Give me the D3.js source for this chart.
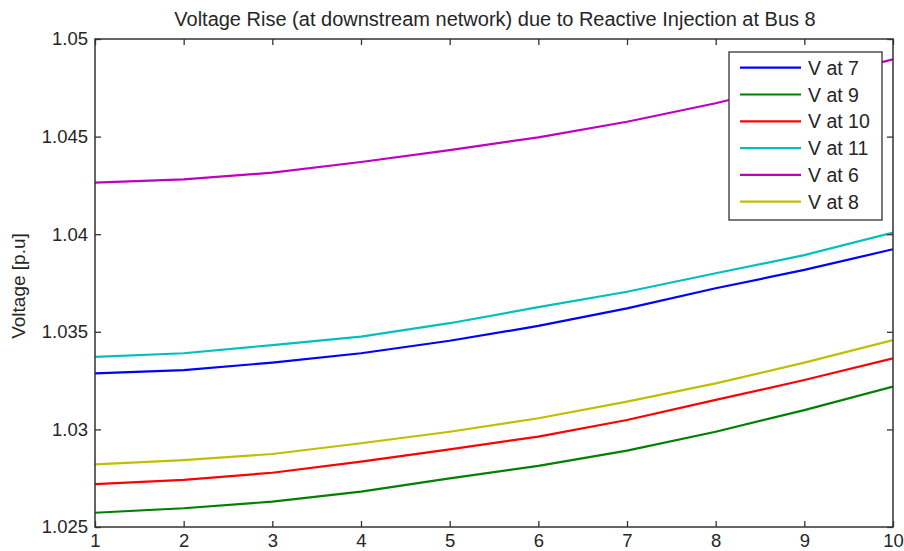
<!DOCTYPE html>
<html>
<head>
<meta charset="utf-8">
<script src="https://cdn.jsdelivr.net/npm/d3@7"></script>
<style>
  html, body { margin: 0; padding: 0; background: #fff; }
  svg { display: block; }
  text { font-family: "Liberation Sans", Arial, sans-serif; fill: #262626; }
</style>
</head>
<body>
<div id="chart"></div>
<script>
// ---- data ----
const xValues = [1, 2, 3, 4, 5, 6, 7, 8, 9, 10];
const v7  = [1.03287, 1.03304, 1.03342, 1.03390, 1.03454, 1.03530, 1.03620, 1.03723, 1.03817, 1.03923];
const v9  = [1.02573, 1.02596, 1.02630, 1.02681, 1.02749, 1.02813, 1.02891, 1.02988, 1.03099, 1.03219];
const v10 = [1.02720, 1.02741, 1.02778, 1.02835, 1.02898, 1.02963, 1.03048, 1.03151, 1.03253, 1.03364];
const v11 = [1.03372, 1.03390, 1.03432, 1.03475, 1.03544, 1.03626, 1.03705, 1.03800, 1.03893, 1.04008];
const v6  = [1.04264, 1.04281, 1.04315, 1.04370, 1.04431, 1.04496, 1.04576, 1.04671, 1.04780, 1.04896];
const v8  = [1.02821, 1.02843, 1.02874, 1.02929, 1.02988, 1.03057, 1.03142, 1.03236, 1.03342, 1.03458];
const seriesNames = ["V at 7", "V at 9", "V at 10", "V at 11", "V at 6", "V at 8"];
const seriesValues = [v7, v9, v10, v11, v6, v8];
const seriesColors = ["#0000ff", "#008000", "#ff0000", "#00bfbf", "#bf00bf", "#bfbf00"];
const xTicks = [1, 2, 3, 4, 5, 6, 7, 8, 9, 10];
const yTicks = [1.025, 1.03, 1.035, 1.04, 1.045, 1.05];
const yTickLabels = ["1.025", "1.03", "1.035", "1.04", "1.045", "1.05"];
const titleText = "Voltage Rise (at downstream network) due to Reactive Injection at Bus 8";
const yLabelText = "Voltage [p.u]";

// ---- layout ----
const W = 904, H = 551;
const L = 95, R = 893, T = 39, B = 527;
const axisColor = "#333";
const tickFont = 18.5;

const svg = d3.select("#chart").append("svg").attr("width", W).attr("height", H);

const x = d3.scaleLinear().domain([1, 10]).range([L, R]);
const y = d3.scaleLinear().domain([1.025, 1.05]).range([B, T]);

// series lines (clipped to plot area)
svg.append("clipPath").attr("id", "clip")
  .append("rect").attr("x", L).attr("y", T).attr("width", R - L).attr("height", B - T);

const line = d3.line().x((d, i) => x(xValues[i])).y(d => y(d));
const lines = svg.append("g").attr("clip-path", "url(#clip)");
seriesValues.forEach((vals, k) => {
  lines.append("path")
    .attr("d", line(vals))
    .attr("fill", "none")
    .attr("stroke", seriesColors[k])
    .attr("stroke-width", 2.2);
});

// axes: bottom/left with labels, top/right mirrored ticks, all inward
const tickLen = 6;
const fmtY = d => yTickLabels[yTicks.indexOf(d)];
const gB = svg.append("g").attr("transform", `translate(0,${B})`)
  .call(d3.axisBottom(x).tickValues(xTicks).tickSizeInner(-tickLen).tickSizeOuter(0).tickPadding(7).tickFormat(d3.format("d")));
const gT = svg.append("g").attr("transform", `translate(0,${T})`)
  .call(d3.axisTop(x).tickValues(xTicks).tickSizeInner(-tickLen).tickSizeOuter(0).tickFormat(""));
const gL = svg.append("g").attr("transform", `translate(${L},0)`)
  .call(d3.axisLeft(y).tickValues(yTicks).tickSizeInner(-tickLen).tickSizeOuter(0).tickPadding(7).tickFormat(fmtY));
const gR = svg.append("g").attr("transform", `translate(${R},0)`)
  .call(d3.axisRight(y).tickValues(yTicks).tickSizeInner(-tickLen).tickSizeOuter(0).tickFormat(""));

[gB, gT, gL, gR].forEach(g => {
  g.select(".domain").remove();
  g.selectAll(".tick line").attr("stroke", axisColor).attr("stroke-width", 1.3);
  g.selectAll("text").attr("font-size", tickFont).attr("fill", "#262626")
    .attr("font-family", "Liberation Sans, Arial, sans-serif");
});

// frame
svg.append("rect").attr("x", L).attr("y", T).attr("width", R - L).attr("height", B - T)
  .attr("fill", "none").attr("stroke", axisColor).attr("stroke-width", 1.5);

// title
svg.append("text").attr("x", 495).attr("y", 26).attr("text-anchor", "middle")
  .attr("font-size", 20).text(titleText);

// y label
svg.append("text").attr("transform", `translate(25,286) rotate(-90)`)
  .attr("text-anchor", "middle").attr("font-size", 19).text(yLabelText);

// legend
const lgX = 729, lgY = 52, lgW = 153, lgH = 168;
const lg = svg.append("g");
lg.append("rect").attr("x", lgX).attr("y", lgY).attr("width", lgW).attr("height", lgH)
  .attr("fill", "#fff").attr("stroke", axisColor).attr("stroke-width", 1.3);
const rowY = d3.scaleLinear().domain([0, 5]).range([67.7, 201.7]);
seriesNames.forEach((name, k) => {
  const yy = rowY(k);
  lg.append("line").attr("x1", 740).attr("x2", 801).attr("y1", yy).attr("y2", yy)
    .attr("stroke", seriesColors[k]).attr("stroke-width", 2.2);
  lg.append("text").attr("x", 808).attr("y", yy).attr("dy", "0.36em")
    .attr("font-size", 19.5).text(name);
});
</script>
</body>
</html>
